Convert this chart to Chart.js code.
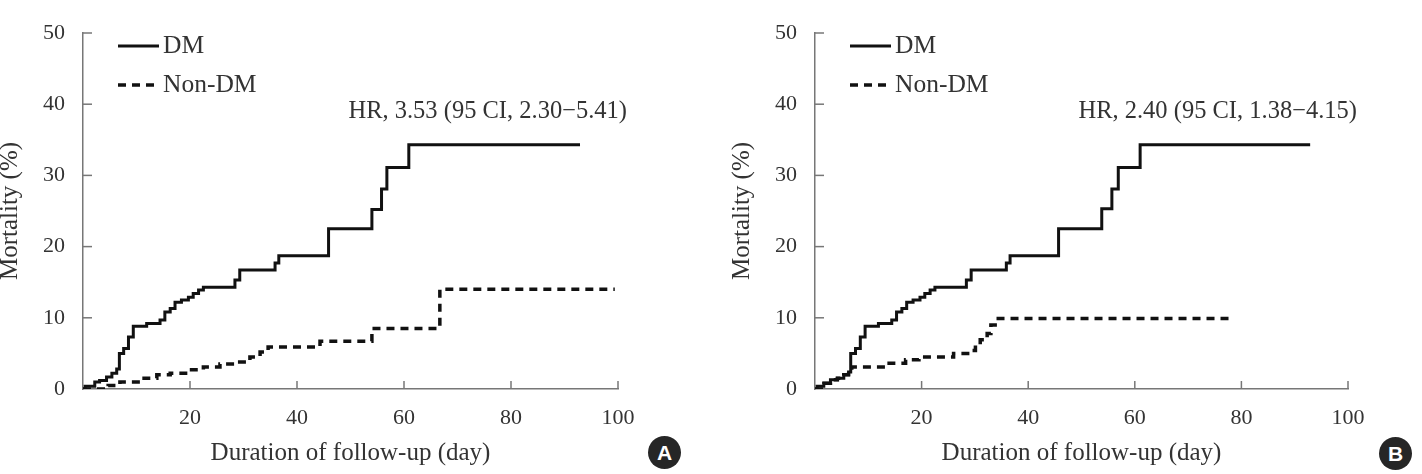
<!DOCTYPE html>
<html>
<head>
<meta charset="utf-8">
<script src="https://cdn.jsdelivr.net/npm/chart.js@4.4.1/dist/chart.umd.min.js"></script>
<style>
  body { margin: 0; background: #fff; }
  .panel { position: absolute; top: 0; width: 711px; height: 474px; }
  .badge {
    position: absolute; width: 33px; height: 33px; border-radius: 50%;
    background: #262626; color: #fff; font: bold 21px 'Liberation Sans', Arial, sans-serif;
    line-height: 33px; text-align: center;
  }
</style>
</head>
<body>
<div class="panel" style="left:0"><canvas id="chartA"></canvas></div>
<div class="panel" style="left:711px"><canvas id="chartB"></canvas></div>
<div class="badge" style="left:648px; top:436px">A</div>
<div class="badge" style="left:1379px; top:437px">B</div>
<script>
// Kaplan-Meier style cumulative mortality (day, %)
const dmDaysA  = [0, 0.4, 2.2, 3.1, 4.4, 5.4, 6.3, 6.8, 7.6, 8.5, 9.4, 11.9, 14.4, 15.3, 16.3, 17.2, 18.4, 19.7, 20.6, 21.6, 22.5, 28.4, 29.3, 35.9, 36.6, 45.9, 54.0, 55.8, 56.8, 60.9, 92.9];
const dmPctA   = [0, 0.4, 1.0, 1.2, 1.7, 2.2, 2.8, 5.0, 5.7, 7.3, 8.8, 9.2, 9.7, 10.8, 11.3, 12.2, 12.5, 12.9, 13.4, 13.9, 14.3, 15.3, 16.7, 17.7, 18.7, 22.5, 25.2, 28.1, 31.1, 34.3, 34.3];
const nonDaysA = [0, 4.7, 6.9, 10.7, 13.8, 16.3, 19.7, 22.5, 25.6, 28.7, 31.2, 33.1, 34.6, 44.3, 54.0, 66.7, 99.4];
const nonPctA  = [0, 0.5, 1.0, 1.5, 2.0, 2.2, 2.7, 3.1, 3.5, 3.8, 4.5, 5.2, 5.9, 6.7, 8.5, 14.0, 14.0];

const dmDaysB  = [0, 0.4, 1.65, 2.9, 4.2, 5.4, 6.3, 6.7, 7.6, 8.5, 9.4, 11.9, 14.4, 15.3, 16.3, 17.2, 18.4, 19.7, 20.6, 21.6, 22.5, 28.4, 29.3, 35.9, 36.6, 45.7, 53.8, 55.7, 56.9, 61.0, 92.9];
const dmPctB   = [0, 0.4, 0.8, 1.3, 1.5, 2.0, 2.4, 5.0, 5.7, 7.3, 8.8, 9.2, 9.7, 10.8, 11.3, 12.2, 12.5, 12.9, 13.4, 13.9, 14.3, 15.3, 16.7, 17.7, 18.7, 22.5, 25.3, 28.1, 31.1, 34.3, 34.3];
const nonDaysB = [0, 1.7, 2.9, 4.2, 5.4, 6.3, 6.9, 13.5, 17.0, 19.5, 26.0, 29.2, 30.1, 31.0, 32.3, 33.0, 33.8, 77.9];
const nonPctB  = [0, 0.8, 1.3, 1.5, 2.0, 2.4, 3.1, 3.6, 4.1, 4.5, 5.0, 5.4, 6.2, 6.9, 7.8, 9.0, 9.9, 9.9];

const xTickValues = [20, 40, 60, 80, 100];
const yTickValues = [0, 10, 20, 30, 40, 50];
const seriesNames = ['DM', 'Non-DM'];
const hrTextA = 'HR, 3.53 (95 CI, 2.30\u22125.41)';
const hrTextB = 'HR, 2.40 (95 CI, 1.38\u22124.15)';

const serif = "'Liberation Serif', 'Times New Roman', serif";
const textColor = '#333';
const axisColor = '#777';

function pts(xs, ys) {
  return xs.map((x, i) => ({ x: x, y: ys[i] }));
}

// inward tick marks, legend and HR note
const extras = {
  id: 'extras',
  afterDraw(chart, args, opts) {
    const { ctx, chartArea: a, scales } = chart;
    ctx.save();
    ctx.strokeStyle = axisColor;
    ctx.lineWidth = 1.5;
    xTickValues.forEach(v => {
      const px = scales.x.getPixelForValue(v);
      ctx.beginPath(); ctx.moveTo(px, a.bottom); ctx.lineTo(px, a.bottom - 8); ctx.stroke();
    });
    yTickValues.slice(1).forEach(v => {
      const py = scales.y.getPixelForValue(v);
      ctx.beginPath(); ctx.moveTo(a.left, py); ctx.lineTo(a.left + 9, py); ctx.stroke();
    });

    // legend
    chart.data.datasets.forEach((ds, i) => {
      const y = a.top + 13 + i * 39;
      ctx.strokeStyle = ds.borderColor;
      ctx.lineWidth = ds.borderWidth;
      ctx.setLineDash(ds.borderDash || []);
      ctx.beginPath(); ctx.moveTo(a.left + 35, y); ctx.lineTo(a.left + 76, y); ctx.stroke();
      ctx.setLineDash([]);
      ctx.fillStyle = textColor;
      ctx.font = '25.5px ' + serif;
      ctx.textBaseline = 'middle';
      ctx.textAlign = 'left';
      ctx.fillText(ds.label, a.left + 80, y);
    });

    ctx.font = '24.5px ' + serif;
    ctx.textAlign = 'right';
    ctx.fillText(opts.text, a.right + 9, a.top + 79);
    ctx.restore();
  }
};

function makePanel(id, dmX, dmY, nonX, nonY, hr, padLeft, padRight) {
  new Chart(document.getElementById(id), {
    type: 'line',
    data: {
      datasets: [{
        label: seriesNames[0],
        data: pts(dmX, dmY),
        borderColor: '#111',
        borderWidth: 3,
        stepped: true,
        pointRadius: 0,
        fill: false
      }, {
        label: seriesNames[1],
        data: pts(nonX, nonY),
        borderColor: '#111',
        borderWidth: 3.5,
        borderDash: [8, 6],
        stepped: true,
        pointRadius: 0,
        fill: false
      }]
    },
    options: {
      responsive: true,
      maintainAspectRatio: false,
      animation: false,
      layout: { padding: { left: padLeft, right: padRight, top: 33, bottom: 0 } },
      plugins: {
        legend: { display: false },
        tooltip: { enabled: false },
        extras: { text: hr }
      },
      scales: {
        x: {
          type: 'linear',
          min: 0,
          max: 100,
          afterBuildTicks: s => { s.ticks = xTickValues.map(v => ({ value: v })); },
          afterFit: s => { s.height = 85; },
          grid: { drawOnChartArea: false, drawTicks: false },
          border: { color: axisColor, width: 1.5 },
          ticks: {
            color: textColor,
            font: { family: serif, size: 22 },
            padding: 16,
            maxRotation: 0,
            autoSkip: false
          },
          title: {
            display: true,
            text: 'Duration of follow-up (day)',
            color: textColor,
            font: { family: serif, size: 25, lineHeight: 1.2 },
            padding: { top: 0, bottom: 6 }
          }
        },
        y: {
          min: 0,
          max: 50,
          afterBuildTicks: s => { s.ticks = yTickValues.map(v => ({ value: v })); },
          afterFit: s => { s.width = 83; },
          grid: { drawOnChartArea: false, drawTicks: false },
          border: { color: axisColor, width: 1.5 },
          ticks: {
            color: textColor,
            font: { family: serif, size: 22 },
            padding: 18
          },
          title: {
            display: true,
            text: 'Mortality (%)',
            color: textColor,
            font: { family: serif, size: 25, lineHeight: 0.8 },
            padding: 0
          }
        }
      }
    },
    plugins: [extras]
  });
}

makePanel('chartA', dmDaysA, dmPctA, nonDaysA, nonPctA, hrTextA, 0, 93);
makePanel('chartB', dmDaysB, dmPctB, nonDaysB, nonPctB, hrTextB, 21, 74);
</script>
</body>
</html>
